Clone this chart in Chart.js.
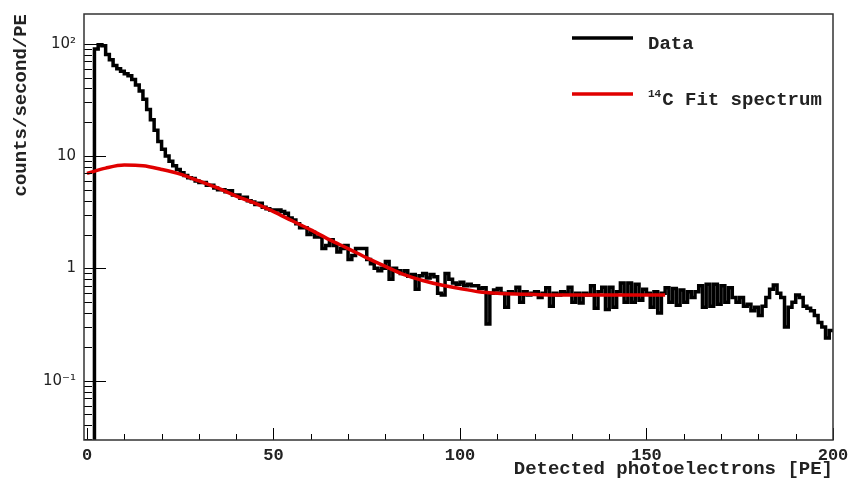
<!DOCTYPE html>
<html>
<head>
<meta charset="utf-8">
<script src="https://cdn.jsdelivr.net/npm/chart.js@4.4.1/dist/chart.umd.min.js"></script>
<style>
html, body { margin: 0; padding: 0; background: #fff; }
</style>
</head>
<body>
<canvas id="graph" width="849" height="481"></canvas>
<script>
// Histogramme des données : counts/second/PE, un bin de 1 PE à partir de 0
var binWidth = 1;
var dataCounts = [
    0.001, 0.001, 90, 98, 96, 80, 72, 64, 60, 57,
    54, 52, 48, 43, 38, 32, 26, 21, 17, 13.5,
    11.5, 10, 9.0, 8.2, 7.6, 7.1, 6.7, 6.4, 6.3, 6.0,
    5.8, 5.8, 5.5, 5.5, 5.2, 5.0, 5.0, 4.8, 4.9, 4.5,
    4.5, 4.2, 4.3, 4.0, 3.9, 3.7, 3.8, 3.5, 3.4, 3.3,
    3.3, 3.3, 3.2, 3.1, 2.8, 2.7, 2.5, 2.3, 2.3, 2.0,
    2.1, 1.9, 1.9, 1.5, 1.6, 1.8, 1.6, 1.4, 1.5, 1.6,
    1.2, 1.3, 1.5, 1.5, 1.5, 1.2, 1.1, 1.0, 0.95, 1.0,
    1.15, 0.8, 1.0, 0.95, 0.9, 0.95, 0.85, 0.88, 0.65, 0.86,
    0.9, 0.82, 0.88, 0.84, 0.6, 0.58, 0.9, 0.8, 0.74, 0.72,
    0.75, 0.7, 0.72, 0.7, 0.7, 0.66, 0.67, 0.32, 0.6, 0.64,
    0.66, 0.6, 0.45, 0.62, 0.6, 0.68, 0.5, 0.62, 0.58, 0.6,
    0.62, 0.55, 0.6, 0.67, 0.46, 0.6, 0.58, 0.62, 0.6, 0.68,
    0.5, 0.6, 0.49, 0.6, 0.58, 0.7, 0.44, 0.62, 0.68, 0.43,
    0.68, 0.45, 0.62, 0.74, 0.5, 0.74, 0.5, 0.72, 0.52, 0.65,
    0.6, 0.45, 0.62, 0.4, 0.6, 0.67, 0.5, 0.66, 0.47, 0.64,
    0.5, 0.62, 0.55, 0.62, 0.7, 0.45, 0.72, 0.46, 0.72, 0.48,
    0.7, 0.5, 0.67, 0.55, 0.5, 0.55, 0.46, 0.48, 0.42, 0.45,
    0.38, 0.46, 0.55, 0.65, 0.71, 0.6, 0.55, 0.3, 0.45, 0.5,
    0.58, 0.55, 0.46, 0.44, 0.42, 0.38, 0.33, 0.3, 0.24, 0.28
];

// Spectre ajusté du 14C (tous les 5 PE)
var fitX = [0, 5, 10, 15, 20, 25, 30, 35, 40, 45, 50, 55, 60, 65, 70, 75,
            80, 85, 90, 95, 100, 105, 110, 115, 120, 125, 130, 135, 140, 145, 150, 155];
var fitY = [7.0, 7.8, 8.3, 8.2, 7.6, 6.9, 6.0, 5.2, 4.4, 3.8, 3.2, 2.65, 2.2, 1.8, 1.5, 1.24,
            1.04, 0.88, 0.78, 0.71, 0.66, 0.62, 0.60, 0.59, 0.585, 0.58, 0.58, 0.58, 0.58, 0.58, 0.58, 0.58];

var yTickValues = [0.1, 1, 10, 100];
var yTickLabels = ['10\u207B\u00B9', '1', '10', '10\u00B2'];
var xLabelStep = 50;

var seriesNames = ['Data', '\u00B9\u2074C Fit spectrum'];
var seriesColors = ['#000000', '#e00000'];

// Points du histogramme (bord gauche de chaque bin, plus le bord final)
var dataPoints = [];
for (var i = 0; i < dataCounts.length; i++) {
    dataPoints.push({ x: i * binWidth, y: dataCounts[i] });
}
dataPoints.push({ x: dataCounts.length * binWidth, y: dataCounts[dataCounts.length - 1] });

var fitPoints = [];
for (var j = 0; j < fitX.length; j++) {
    fitPoints.push({ x: fitX[j], y: fitY[j] });
}

var monoFont = '"Liberation Mono", "DejaVu Sans Mono", monospace';
var supDigits = { '\u2070': '0', '\u00B9': '1', '\u00B2': '2', '\u00B3': '3', '\u2074': '4',
                  '\u2075': '5', '\u2076': '6', '\u2077': '7', '\u2078': '8', '\u2079': '9' };

// Écrit un libellé, les exposants en début de texte en petit et surélevés
function drawLabel(ctx, text, x, y) {
    var sup = '';
    var k = 0;
    while (k < text.length && supDigits[text[k]]) {
        sup += supDigits[text[k]];
        k++;
    }
    if (sup) {
        ctx.font = 'bold 11px ' + monoFont;
        ctx.fillText(sup, x, y - 6);
        x += ctx.measureText(sup).width + 1;
    }
    ctx.font = 'bold 19px ' + monoFont;
    ctx.fillText(text.slice(k), x, y);
}

// Cadre, graduations vers l'intérieur (style ROOT) et légende
var rootStyle = {
    id: 'rootStyle',
    afterDraw: function(chart) {
        var ctx = chart.ctx;
        var a = chart.chartArea;
        var xs = chart.scales.x;
        var ys = chart.scales.y;
        ctx.save();
        ctx.strokeStyle = '#000';
        ctx.lineWidth = 1;
        for (var d = -2; d <= 2; d++) {
            for (var k = 1; k <= 9; k++) {
                var v = k * Math.pow(10, d);
                if (v < ys.min || v > ys.max) continue;
                var py = Math.round(ys.getPixelForValue(v)) + 0.5;
                ctx.beginPath();
                ctx.moveTo(a.left, py);
                ctx.lineTo(a.left + (k === 1 ? 22 : 8), py);
                ctx.stroke();
            }
        }
        xs.ticks.forEach(function(t) {
            var px = Math.round(xs.getPixelForValue(t.value)) + 0.5;
            ctx.beginPath();
            ctx.moveTo(px, a.bottom);
            ctx.lineTo(px, a.bottom - (t.value % xLabelStep === 0 ? 12 : 6));
            ctx.stroke();
        });
        ctx.strokeStyle = '#333';
        ctx.lineWidth = 1.5;
        ctx.strokeRect(a.left, a.top, a.right - a.left, a.bottom - a.top);

        // légende
        var rowsY = [38, 94];
        chart.data.datasets.forEach(function(ds, n) {
            ctx.strokeStyle = ds.borderColor;
            ctx.lineWidth = 3.5;
            ctx.beginPath();
            ctx.moveTo(572, rowsY[n]);
            ctx.lineTo(633, rowsY[n]);
            ctx.stroke();
            ctx.fillStyle = '#222';
            ctx.textBaseline = 'middle';
            ctx.textAlign = 'left';
            drawLabel(ctx, ds.label, 648, rowsY[n] + 6);
        });
        ctx.restore();
    }
};

var ctx = document.getElementById('graph').getContext('2d');
window.myChart = new Chart(ctx, {
    type: 'line',
    data: {
        datasets: [{
            label: seriesNames[0],
            data: dataPoints,
            borderColor: seriesColors[0],
            borderWidth: 3.5,
            stepped: 'before',
            pointRadius: 0,
            order: 1
        }, {
            label: seriesNames[1],
            data: fitPoints,
            borderColor: seriesColors[1],
            borderWidth: 3.5,
            cubicInterpolationMode: 'monotone',
            pointRadius: 0,
            order: 0
        }]
    },
    options: {
        responsive: false,
        animation: false,
        devicePixelRatio: 1,
        layout: { padding: { left: 0, top: 14, right: 16, bottom: 0 } },
        plugins: {
            legend: { display: false },
            tooltip: { enabled: false }
        },
        scales: {
            x: {
                type: 'linear',
                min: -0.8,
                max: 200,
                grid: { display: false, drawTicks: false },
                border: { display: false },
                ticks: {
                    stepSize: 10,
                    includeBounds: false,
                    autoSkip: false,
                    maxRotation: 0,
                    padding: 6,
                    color: '#222',
                    font: { family: monoFont, size: 17, weight: 'bold' },
                    callback: function(value) {
                        return value % xLabelStep === 0 ? String(value) : '';
                    }
                },
                title: {
                    display: true,
                    text: 'Detected photoelectrons [PE]',
                    align: 'end',
                    color: '#222',
                    padding: { top: 0, bottom: 0 },
                    font: { family: monoFont, size: 19, weight: 'bold' }
                },
                afterFit: function(scale) {
                    scale.height = 41;
                    scale.paddingLeft = 0;
                    scale.paddingRight = 0;
                }
            },
            y: {
                type: 'logarithmic',
                min: 0.0296,
                max: 184,
                grid: { display: false, drawTicks: false },
                border: { display: false },
                afterBuildTicks: function(scale) {
                    scale.ticks = yTickValues.map(function(v) { return { value: v }; });
                },
                ticks: {
                    padding: 8,
                    color: '#222',
                    font: { family: '"DejaVu Sans", sans-serif', size: 15 },
                    callback: function(value) {
                        var idx = yTickValues.indexOf(value);
                        return idx >= 0 ? yTickLabels[idx] : '';
                    }
                },
                title: {
                    display: true,
                    text: 'counts/second/PE',
                    align: 'end',
                    color: '#222',
                    padding: { top: 10, bottom: 0 },
                    font: { family: monoFont, size: 19, weight: 'bold' }
                },
                afterFit: function(scale) {
                    scale.width = 84;
                    scale.paddingTop = 0;
                    scale.paddingBottom = 0;
                }
            }
        }
    },
    plugins: [rootStyle]
});
</script>
</body>
</html>
